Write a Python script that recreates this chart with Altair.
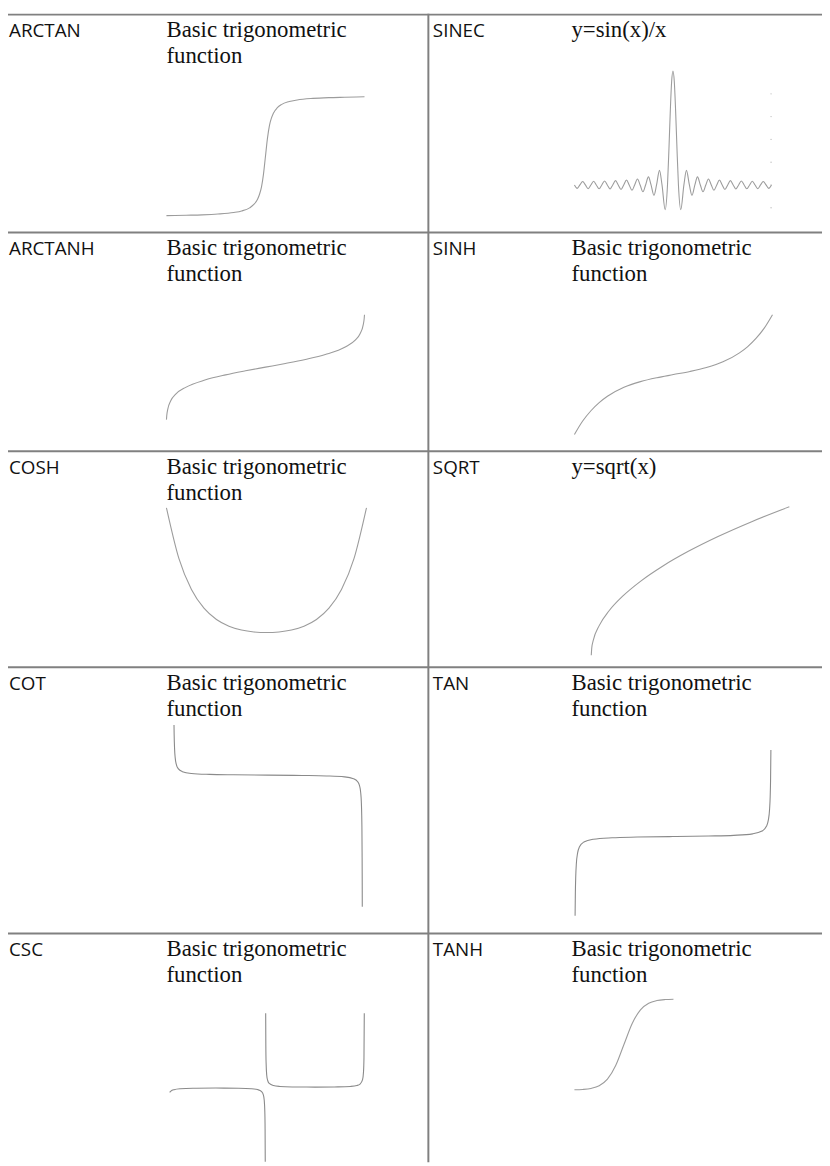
import altair as alt
import pandas as pd

# ---------------- data ----------------
labels = ["ARCTAN", "SINEC", "ARCTANH", "SINH", "COSH", "SQRT", "COT", "TAN", "CSC", "TANH"]
descriptions = [
    ["Basic trigonometric", "function"], ["y=sin(x)/x"],
    ["Basic trigonometric", "function"], ["Basic trigonometric", "function"],
    ["Basic trigonometric", "function"], ["y=sqrt(x)"],
    ["Basic trigonometric", "function"], ["Basic trigonometric", "function"],
    ["Basic trigonometric", "function"], ["Basic trigonometric", "function"],
]

arctan_x = [-25, -20, -16, -12, -8, -6, -4, -3, -2, -1.5, -1, -0.5, 0, 0.5, 1, 1.5, 2, 3, 4, 6, 8, 12, 16, 20, 25]
arctan_y = [-1.531, -1.52, -1.51, -1.49, -1.45, -1.41, -1.33, -1.25, -1.11, -0.98, -0.79, -0.46, 0,
            0.46, 0.79, 0.98, 1.11, 1.25, 1.33, 1.41, 1.45, 1.49, 1.51, 1.52, 1.531]

sinc_x = [-56.55, -54.96, -53.41, -51.81, -50.27, -48.67, -47.12, -45.53, -43.98, -42.39, -40.84,
          -39.24, -37.70, -36.10, -34.56, -32.96, -31.42, -29.81, -28.27, -26.67, -25.13, -23.52,
          -21.99, -20.37, -18.85, -17.22, -15.71, -14.07, -12.57, -10.90, -9.42, -7.73, -6.28,
          -4.49, -3.14, -2.3, -1.5, -0.75, 0, 0.75, 1.5, 2.3, 3.14, 4.49, 6.28, 7.73, 9.42, 10.90,
          12.57, 14.07, 15.71, 17.22, 18.85, 20.37, 21.99, 23.52, 25.13, 26.67, 28.27, 29.81,
          31.42, 32.96, 34.56, 36.10, 37.70, 39.24, 40.84, 42.39, 43.98, 45.53, 47.12, 48.67,
          50.27, 51.81, 53.41, 54.96, 56.55]
sinc_y = [0, -0.030, 0, 0.031, 0, -0.032, 0, 0.033, 0, -0.034, 0,
          0.035, 0, -0.036, 0, 0.038, 0, -0.040, 0, 0.043, 0, -0.047,
          0, 0.052, 0, -0.060, 0, 0.071, 0, -0.091, 0, 0.128, 0,
          -0.217, 0, 0.32, 0.66, 0.91, 1.0, 0.91, 0.66, 0.32, 0, -0.217, 0, 0.128, 0, -0.091,
          0, 0.071, 0, -0.060, 0, 0.052, 0, -0.047, 0, 0.043, 0, -0.040,
          0, 0.038, 0, -0.036, 0, 0.035, 0, -0.034, 0, 0.033, 0, -0.032,
          0, 0.031, 0, -0.030, 0]
sinc_tick_y = [-0.2, 0, 0.2, 0.4, 0.6, 0.8]

arctanh_x = [-0.993, -0.99, -0.98, -0.95, -0.9, -0.8, -0.6, -0.4, -0.2, 0, 0.2, 0.4, 0.6, 0.8, 0.9, 0.95, 0.98, 0.99, 0.993]
arctanh_y = [-2.86, -2.65, -2.30, -1.83, -1.47, -1.10, -0.69, -0.42, -0.20, 0,
             0.20, 0.42, 0.69, 1.10, 1.47, 1.83, 2.30, 2.65, 2.86]

sinh_x = [-3, -2.75, -2.5, -2.25, -2, -1.5, -1, -0.5, 0, 0.5, 1, 1.5, 2, 2.25, 2.5, 2.75, 3]
sinh_y = [-10.02, -7.77, -6.05, -4.69, -3.63, -2.13, -1.18, -0.52, 0,
          0.52, 1.18, 2.13, 3.63, 4.69, 6.05, 7.77, 10.02]

cosh_x = [-4, -3.5, -3, -2.5, -2, -1.5, -1, -0.5, 0, 0.5, 1, 1.5, 2, 2.5, 3, 3.5, 4]
cosh_y = [27.31, 16.57, 10.07, 6.13, 3.76, 2.35, 1.54, 1.13, 1.0, 1.13, 1.54, 2.35, 3.76, 6.13, 10.07, 16.57, 27.31]

sqrt_x = [0, 0.0025, 0.01, 0.04, 0.09, 0.16, 0.25, 0.36, 0.49, 0.64, 0.81, 1.0]
sqrt_y = [0, 0.05, 0.1, 0.2, 0.3, 0.4, 0.5, 0.6, 0.7, 0.8, 0.9, 1.0]

cot_x = [0.0105, 0.013, 0.02, 0.03, 0.05, 0.08, 0.15, 0.3, 0.6, 1.0, 1.5708, 2.1416, 2.5416,
         2.8416, 2.9916, 3.0616, 3.0916, 3.1116, 3.1216, 3.1286, 3.1316, 3.1346, 3.1366, 3.1376]
cot_y = [95.2, 76.9, 50.0, 33.3, 19.98, 12.47, 6.62, 3.23, 1.46, 0.642, 0, -0.642, -1.46,
         -3.23, -6.62, -12.47, -19.98, -33.3, -50.0, -76.9, -99.6, -147, -200, -250]

tan_x = [-1.5603, -1.556, -1.55, -1.54, -1.52, -1.49, -1.42, -1.27, -0.97, -0.57, 0,
         0.57, 0.97, 1.27, 1.42, 1.49, 1.52, 1.54, 1.55, 1.556, 1.5612]
tan_y = [-95.2, -67.6, -48.1, -32.5, -19.7, -12.35, -6.58, -3.23, -1.46, -0.64, 0,
         0.64, 1.46, 3.23, 6.58, 12.35, 19.7, 32.5, 48.1, 67.6, 104]

csc_neg_x = [-3.04, -3.0, -2.9, -2.7, -2.3, -1.57, -0.85, -0.45, -0.25, -0.12, -0.07, -0.04, -0.02, -0.012, -0.0067]
csc_neg_y = [-9.86, -7.09, -4.19, -2.34, -1.34, -1.0, -1.33, -2.30, -4.04, -8.35, -14.3, -25, -50, -83, -150]
csc_pos_x = [0.0067, 0.012, 0.02, 0.04, 0.07, 0.12, 0.25, 0.45, 0.85, 1.57, 2.3, 2.7, 2.9, 3.0, 3.08, 3.11, 3.125, 3.1349]
csc_pos_y = [150, 83, 50, 25, 14.3, 8.35, 4.04, 2.30, 1.33, 1.0, 1.34, 2.34, 4.19, 7.09, 16.2, 31.6, 60, 150]

tanh_x = [-3, -2.5, -2, -1.5, -1, -0.5, 0, 0.5, 1, 1.5, 2, 2.5, 3]
tanh_y = [-0.995, -0.987, -0.964, -0.905, -0.762, -0.462, 0, 0.462, 0.762, 0.905, 0.964, 0.987, 0.995]

# ---------------- layout (page pixel coordinates) ----------------
W, H = 822, 1158
OX, OY = 8, 8                      # chart origin on the page
ROW_TOPS = [9, 229, 450, 668, 937]
PAGE_BOTTOM = 1166
LEFT_X, MID_X, RIGHT_X = 7, 432.5, 831
LABEL_X = [9, 437]
DESC_X = [168, 577]
BASE_OFF, LINE_GAP = 23, 26
GRID = "#808080"
CURVE = "#9c9c9c"
DARK_CURVE = "#8a8a8a"
LABEL_FONT, DESC_FONT = "Open Sans", "Liberation Serif"


def px(x):
    return x - OX


def py(y):
    return y - OY


one = pd.DataFrame({"k": [0]})
layers = []

# table rules
for yy in ROW_TOPS:
    layers.append(alt.Chart(one).mark_rule(color=GRID, strokeWidth=2).encode(
        x=alt.value(px(LEFT_X - 1)), x2=alt.value(px(RIGHT_X)), y=alt.value(py(yy))))
for xx in (LEFT_X, MID_X):
    layers.append(alt.Chart(one).mark_rule(color=GRID, strokeWidth=2).encode(
        x=alt.value(px(xx)), y=alt.value(py(ROW_TOPS[0] - 1)), y2=alt.value(py(PAGE_BOTTOM + 2))))

# texts
for i, (lab, desc) in enumerate(zip(labels, descriptions)):
    r, c = divmod(i, 2)
    base = ROW_TOPS[r] + BASE_OFF
    layers.append(alt.Chart(pd.DataFrame({"t": [lab]})).mark_text(
        align="left", baseline="alphabetic", font=LABEL_FONT, fontSize=19, color="#111111"
    ).encode(text="t:N", x=alt.value(px(LABEL_X[c])), y=alt.value(py(base))))
    for j, line in enumerate(desc):
        layers.append(alt.Chart(pd.DataFrame({"t": [line]})).mark_text(
            align="left", baseline="alphabetic", font=DESC_FONT, fontSize=23, color="#111111"
        ).encode(text="t:N", x=alt.value(px(DESC_X[c])), y=alt.value(py(base + j * LINE_GAP))))


def curve(xs, ys, xdom, xr, ydom, yr, color=CURVE, width=1.1, group=None, mark="line"):
    df = pd.DataFrame({"x": xs, "y": ys})
    enc = dict(
        x=alt.X("x:Q", axis=None, scale=alt.Scale(domain=xdom, range=[px(xr[0]), px(xr[1])], nice=False, zero=False)),
        y=alt.Y("y:Q", axis=None, scale=alt.Scale(domain=ydom, range=[py(yr[0]), py(yr[1])], nice=False, zero=False)),
    )
    if group is not None:
        df["g"] = group
        enc["detail"] = "g:N"
    if mark == "line":
        m = alt.Chart(df).mark_line(stroke=color, strokeWidth=width, interpolate="monotone")
    else:
        m = alt.Chart(df).mark_circle(color=color, size=2, opacity=0.8)
    return m.encode(**enc)


layers.append(curve(arctan_x, arctan_y, [-25, 25], [168, 368], [-1.531, 1.531], [212, 92]))
layers.append(curve(sinc_x, sinc_y, [-56.55, 56.55], [580, 779], [-0.25, 1.0], [209.75, 66]))
layers.append(curve([56.3] * len(sinc_tick_y), sinc_tick_y, [-56.55, 56.55], [580, 779],
                    [-0.25, 1.0], [209.75, 66], color="#b0b0b0", mark="point"))
layers.append(curve(arctanh_x, arctanh_y, [-0.993, 0.993], [168, 368], [-2.86, 2.86], [418, 312]))
layers.append(curve(sinh_x, sinh_y, [-3, 3], [580, 780], [-10.02, 10.02], [433, 312]))
layers.append(curve(cosh_x, cosh_y, [-4, 4], [168, 370], [1, 27.31], [633, 507]))
layers.append(curve(sqrt_x, sqrt_y, [0, 1], [597, 797], [0, 1], [656, 506]))
layers.append(curve(cot_x, cot_y, [0, 3.14159], [175, 366], [-250, 100], [910, 723.8], color=DARK_CURVE))
layers.append(curve(tan_x, tan_y, [-1.5708, 1.5708], [580, 779], [-100, 100], [923, 755], color=DARK_CURVE))
layers.append(curve(csc_neg_x + csc_pos_x, csc_neg_y + csc_pos_y, [-3.14159, 3.14159], [168, 368],
                    [-150, 150], [1167.5, 1017.5], color=DARK_CURVE,
                    group=["neg"] * len(csc_neg_x) + ["pos"] * len(csc_pos_x)))
layers.append(curve(tanh_x, tanh_y, [-3, 3], [580, 680], [-1, 1], [1095, 1003]))

chart = alt.layer(*layers).resolve_scale(x="independent", y="independent").properties(
    width=W, height=H, padding=0, autosize="none"
).configure_view(strokeWidth=0)

chart.save("out.html", embed_options={"renderer": "svg", "actions": False})
